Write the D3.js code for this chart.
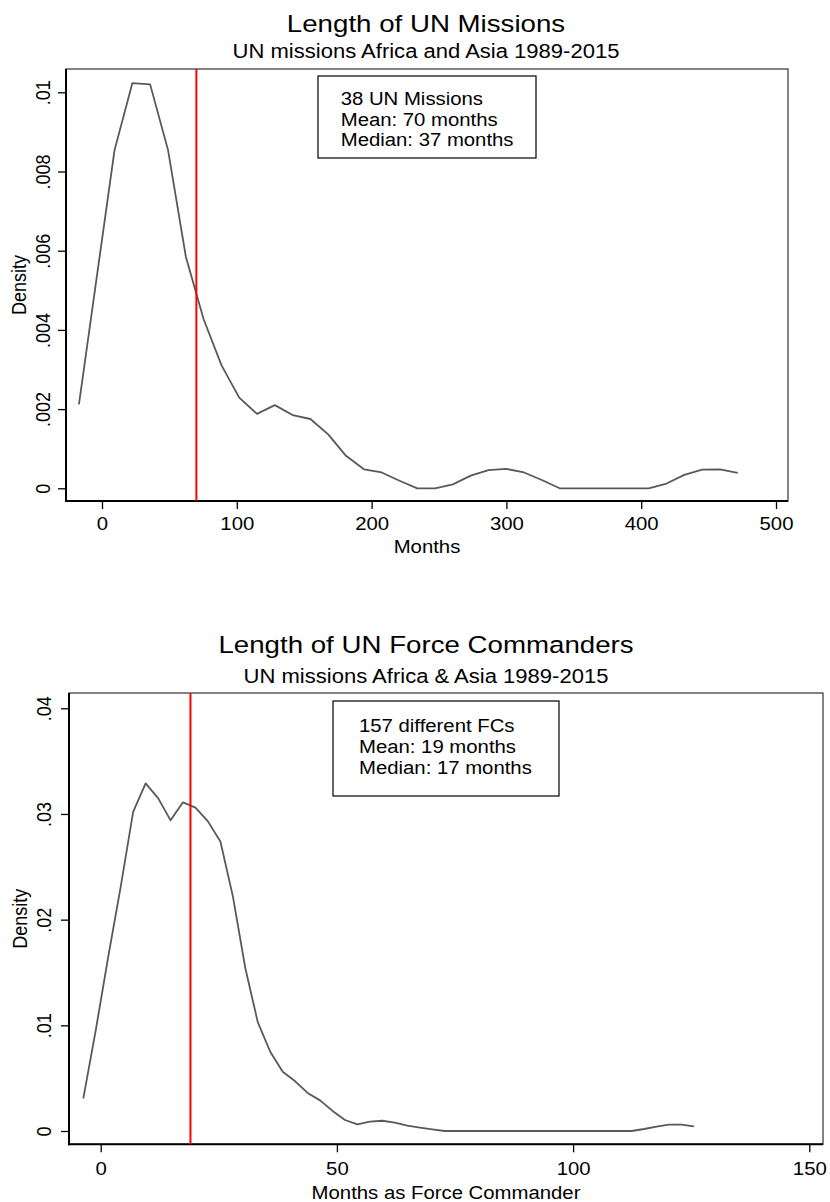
<!DOCTYPE html>
<html><head><meta charset="utf-8">
<script src="https://cdn.jsdelivr.net/npm/d3@7"></script>
<style>
body{margin:0;background:#fff}
text{font-family:"Liberation Sans",Arial,Helvetica,sans-serif;fill:#000}
</style>
</head><body>
<svg id="c" width="830" height="1202"></svg>
<script>
// ---------- DATA ----------
const missionsMonths = [-17.1,-3.9,9.3,22.5,35.7,49.0,62.2,75.4,88.6,101.8,115.0,128.2,141.4,154.6,167.8,181.0,194.3,207.5,220.7,233.9,247.1,260.3,273.5,286.7,299.9,313.1,326.3,339.5,352.8,366.0,379.2,392.4,405.6,418.8,432.0,445.2,458.4,471.6];
const missionsDensity = [0.00212,0.00533,0.00854,0.01023,0.0102,0.00854,0.00585,0.00427,0.00311,0.00229,0.00188,0.0021,0.00185,0.00175,0.00136,0.00082,0.00048,0.0004,0.00019,0,0,0.0001,0.00032,0.00046,0.00049,0.0004,0.00021,0,0,0,0,0,0,0.00012,0.00034,0.00047,0.00048,0.00039];
const missionsMean = 70;
const missionsXTicks = [0,100,200,300,400,500];
const missionsYTicks = [0,0.002,0.004,0.006,0.008,0.01];
const missionsTitle = "Length of UN Missions";
const missionsSubtitle = "UN missions Africa and Asia 1989-2015";
const missionsXLabel = "Months";
const missionsStats = ["38 UN Missions","Mean: 70 months","Median: 37 months"];

const fcMonths = [-3.68,-1.04,1.60,4.23,6.87,9.51,12.15,14.79,17.42,20.06,22.70,25.34,27.98,30.62,33.25,35.89,38.53,41.17,43.80,46.44,49.08,51.72,54.36,56.99,59.63,62.27,64.91,67.55,70.18,72.82,75.46,78.10,80.74,83.37,86.01,88.65,91.29,93.93,96.56,99.20,101.84,104.48,107.11,109.75,112.39,115.03,117.67,120.30,122.94,125.58];
const fcDensity = [0.00309,0.00955,0.0165,0.0231,0.0302,0.0329,0.0315,0.0294,0.0311,0.0306,0.0293,0.0274,0.0222,0.0154,0.0103,0.0075,0.0056,0.0047,0.0036,0.0029,0.0019,0.00104,0.00063,0.00088,0.00097,0.00079,0.0005,0.00032,0.00016,0,0,0,0,0,0,0,0,0,0,0,0,0,0,0,0,0.00019,0.00042,0.0006,0.0006,0.00044];
const fcMean = 19;
const fcXTicks = [0,50,100,150];
const fcYTicks = [0,0.01,0.02,0.03,0.04];
const fcTitle = "Length of UN Force Commanders";
const fcSubtitle = "UN missions Africa & Asia 1989-2015";
const fcXLabel = "Months as Force Commander";
const fcStats = ["157 different FCs","Mean: 19 months","Median: 17 months"];

// ---------- DRAWING ----------
const SX = 1.13; // horizontal stretch of text in the reference
const svg = d3.select("#c");
const fmtY = d => d === 0 ? "0" : d3.format("")(d).replace(/^0\./, ".");

function panel(cfg) {
  const g = svg.append("g");
  const x = d3.scaleLinear().domain(cfg.xDom).range(cfg.xRange);
  const y = d3.scaleLinear().domain(cfg.yDom).range(cfg.yRange);
  const F = cfg.frame;

  // titles
  g.append("text").attr("transform", `translate(${cfg.titleX},${cfg.titleY}) scale(${SX},1)`)
    .attr("text-anchor","middle").attr("font-size",24.5).text(cfg.title);
  g.append("text").attr("transform", `translate(${cfg.titleX},${cfg.subY}) scale(${SX},1)`)
    .attr("text-anchor","middle").attr("font-size",19.5).text(cfg.subtitle);

  // frame
  g.append("rect").attr("x",F.l).attr("y",F.t).attr("width",F.r-F.l).attr("height",F.b-F.t)
    .attr("fill","none").attr("stroke","#333").attr("stroke-width",1.2);

  // axes
  const ax = g.append("g").attr("transform",`translate(0,${F.b})`)
    .call(d3.axisBottom(x).tickValues(cfg.xTicks).tickSize(8).tickFormat(d3.format("d")));
  ax.select(".domain").remove();
  ax.attr("font-size",18).attr("font-family",'"Liberation Sans",Arial,sans-serif');
  ax.selectAll(".tick line").attr("stroke","#000").attr("stroke-width",1.3);
  ax.selectAll(".tick text").attr("y",0).attr("dy",0).attr("fill","#000")
    .attr("text-anchor","middle").attr("transform",`translate(0,${cfg.xLabOff}) scale(${SX},1)`);

  const ay = g.append("g").attr("transform",`translate(${F.l},0)`)
    .call(d3.axisLeft(y).tickValues(cfg.yTicks).tickSize(8).tickFormat(fmtY));
  ay.select(".domain").remove();
  ay.attr("font-size",18).attr("font-family",'"Liberation Sans",Arial,sans-serif');
  ay.selectAll(".tick line").attr("stroke","#000").attr("stroke-width",1.3);
  ay.selectAll(".tick text").attr("x",0).attr("dy",0).attr("fill","#000")
    .attr("text-anchor","middle").attr("transform",`translate(${cfg.yLabOff},0) scale(${SX},1) rotate(-90)`);

  // heavier axis lines
  g.append("line").attr("x1",F.l).attr("x2",F.l).attr("y1",F.t).attr("y2",F.b+1)
    .attr("stroke","#000").attr("stroke-width",2);
  g.append("line").attr("x1",F.l-1).attr("x2",F.r).attr("y1",F.b).attr("y2",F.b)
    .attr("stroke","#000").attr("stroke-width",2);

  // axis titles
  g.append("text").attr("transform",`translate(${(F.l+F.r)/2},${cfg.xTitleY}) scale(${SX},1)`)
    .attr("text-anchor","middle").attr("font-size",18).text(cfg.xLabel);
  g.append("text").attr("transform",`translate(${cfg.yTitleX},${(F.t+F.b)/2}) scale(${SX},1) rotate(-90)`)
    .attr("text-anchor","middle").attr("font-size",18).text("Density");

  // density curve
  const pts = cfg.xs.map((v,i)=>[v,cfg.ys[i]]);
  g.append("path").datum(pts)
    .attr("d", d3.line().x(d=>x(d[0])).y(d=>y(d[1])))
    .attr("fill","none").attr("stroke","#595959").attr("stroke-width",1.8).attr("stroke-linejoin","round");

  // mean line
  g.append("line").attr("x1",x(cfg.mean)).attr("x2",x(cfg.mean)).attr("y1",F.t).attr("y2",F.b)
    .attr("stroke","#ff0000").attr("stroke-width",2);

  // stats box
  const B = cfg.box;
  g.append("rect").attr("x",B.x).attr("y",B.y).attr("width",B.w).attr("height",B.h)
    .attr("fill","#fff").attr("stroke","#000").attr("stroke-width",1.2);
  cfg.stats.forEach((s,i)=>{
    g.append("text").attr("transform",`translate(${B.tx},${B.ty + i*B.ls}) scale(${SX},1)`)
      .attr("font-size",18).text(s);
  });
}

panel({
  xs: missionsMonths, ys: missionsDensity, mean: missionsMean,
  xTicks: missionsXTicks, yTicks: missionsYTicks,
  title: missionsTitle, subtitle: missionsSubtitle, xLabel: missionsXLabel, stats: missionsStats,
  xDom:[0,500], xRange:[102,776], yDom:[0,0.01], yRange:[488.3,92.3],
  frame:{l:66,r:788,t:69,b:501},
  titleX:426, titleY:31.5, subY:58.3,
  xLabOff:29, yLabOff:-16, xTitleY:553.3, yTitleX:26,
  box:{x:318,y:76,w:218,h:82,tx:340.7,ty:105,ls:20.5}
});

panel({
  xs: fcMonths, ys: fcDensity, mean: fcMean,
  xTicks: fcXTicks, yTicks: fcYTicks,
  title: fcTitle, subtitle: fcSubtitle, xLabel: fcXLabel, stats: fcStats,
  xDom:[0,150], xRange:[100.7,809.3], yDom:[0,0.04], yRange:[1131,708.3],
  frame:{l:69,r:823,t:693,b:1144.3},
  titleX:426, titleY:653.3, subY:683.3,
  xLabOff:30.7, yLabOff:-18, xTitleY:1199, yTitleX:27,
  box:{x:333,y:701,w:226,h:95,tx:359,ty:732.3,ls:21}
});
</script>
</body></html>
